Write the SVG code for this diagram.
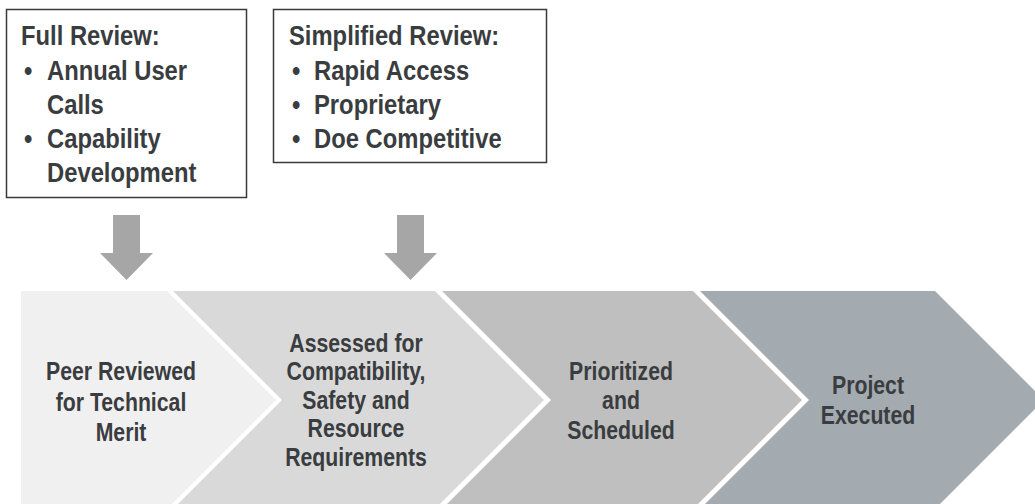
<svg xmlns="http://www.w3.org/2000/svg" width="1035" height="504" viewBox="0 0 1035 504">
<style>
text{font-family:"Liberation Sans",Arial,sans-serif;font-weight:bold;fill:#3a3d40}
.box{fill:#fff;stroke:#3a3a3a;stroke-width:1.5}
.bt{font-size:28px}
.ct{font-size:25px;text-anchor:middle}
.arr{fill:#a6a6a6}
</style>
<rect width="1035" height="504" fill="#fff"/>
<g id="full-review">
<rect class="box" x="6.5" y="9.5" width="240" height="188"/>
<text class="bt" transform="translate(21,45) scale(0.85,1)">Full Review:</text>
<text class="bt" transform="translate(24,80) scale(0.85,1)">•</text>
<text class="bt" transform="translate(47,80) scale(0.85,1)">Annual User</text>
<text class="bt" transform="translate(47,114) scale(0.85,1)">Calls</text>
<text class="bt" transform="translate(24,148) scale(0.85,1)">•</text>
<text class="bt" transform="translate(47,148) scale(0.85,1)">Capability</text>
<text class="bt" transform="translate(47,182) scale(0.85,1)">Development</text>
</g>
<g id="simplified-review">
<rect class="box" x="273.5" y="9.5" width="273" height="153"/>
<text class="bt" transform="translate(289,45) scale(0.85,1)">Simplified Review:</text>
<text class="bt" transform="translate(292,80) scale(0.85,1)">•</text>
<text class="bt" transform="translate(314,80) scale(0.85,1)">Rapid Access</text>
<text class="bt" transform="translate(292,114) scale(0.85,1)">•</text>
<text class="bt" transform="translate(314,114) scale(0.85,1)">Proprietary</text>
<text class="bt" transform="translate(292,148) scale(0.85,1)">•</text>
<text class="bt" transform="translate(314,148) scale(0.85,1)">Doe Competitive</text>
</g>
<g id="connectors">
<polygon class="arr" points="113,215 140,215 140,253 153,253 126.5,280 100,253 113,253"/>
<polygon class="arr" points="397,215 424,215 424,253 437,253 410.5,280 384,253 397,253"/>
</g>
<g id="step1">
<polygon fill="#f0f0f0" points="21,291 167,291 276,400 167,509 21,509"/>
<text class="ct" transform="translate(121,380) scale(0.85,1)">Peer Reviewed</text>
<text class="ct" transform="translate(121,411) scale(0.85,1)">for Technical</text>
<text class="ct" transform="translate(121,441) scale(0.85,1)">Merit</text>
</g>
<g id="step2">
<polygon fill="#d9d9d9" points="173,291 435,291 544,400 435,509 173,509 282,400"/>
<text class="ct" transform="translate(356,352) scale(0.85,1)">Assessed for</text>
<text class="ct" transform="translate(356,380) scale(0.85,1)">Compatibility,</text>
<text class="ct" transform="translate(356,409) scale(0.85,1)">Safety and</text>
<text class="ct" transform="translate(356,437) scale(0.85,1)">Resource</text>
<text class="ct" transform="translate(356,466) scale(0.85,1)">Requirements</text>
</g>
<g id="step3">
<polygon fill="#bfbfbf" points="442,291 693,291 802,400 693,509 442,509 551,400"/>
<text class="ct" transform="translate(621,380) scale(0.85,1)">Prioritized</text>
<text class="ct" transform="translate(621,409) scale(0.85,1)">and</text>
<text class="ct" transform="translate(621,439) scale(0.85,1)">Scheduled</text>
</g>
<g id="step4">
<polygon fill="#a3aab0" points="700,291 935,291 1044,400 935,509 700,509 809,400"/>
<text class="ct" transform="translate(868,394) scale(0.85,1)">Project</text>
<text class="ct" transform="translate(868,424) scale(0.85,1)">Executed</text>
</g>
</svg>
